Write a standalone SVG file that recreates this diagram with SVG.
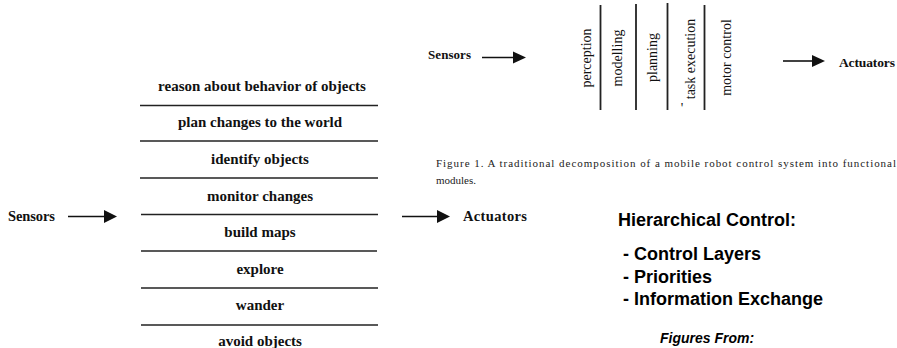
<svg xmlns="http://www.w3.org/2000/svg" width="897" height="348" viewBox="0 0 897 348">
<style>
.bg{fill:#ffffff}
.lay{font-family:"Liberation Serif","Times New Roman",serif;font-weight:bold;font-size:15px;fill:#111;text-anchor:middle}
.lbl{font-family:"Liberation Serif","Times New Roman",serif;font-weight:bold;fill:#111}
.mod{font-family:"Liberation Serif","Times New Roman",serif;font-size:14px;fill:#111;text-anchor:middle}
.cap{font-family:"Liberation Serif","Times New Roman",serif;font-size:11px;fill:#222}
.sep{stroke:#222;stroke-width:1.6}
.vsep{stroke:#222;stroke-width:1.8}
.arr{stroke:#111;stroke-width:1.6;fill:none}
.head{fill:#111}
.hc{font-family:"Liberation Sans",Arial,sans-serif;font-weight:bold;font-size:18px;fill:#000}
.fig{font-family:"Liberation Sans",Arial,sans-serif;font-weight:bold;font-style:italic;font-size:14px;fill:#000}
</style>
<rect class="bg" x="0" y="0" width="897" height="348"/>

<g id="layers">
  <g id="layer-reason"><text class="lay" x="262" y="91">reason about behavior of objects</text></g>
  <g id="layer-plan"><text class="lay" x="260" y="127">plan changes to the world</text></g>
  <g id="layer-identify"><text class="lay" x="260" y="164">identify objects</text></g>
  <g id="layer-monitor"><text class="lay" x="260" y="201">monitor changes</text></g>
  <g id="layer-build"><text class="lay" x="260" y="237">build maps</text></g>
  <g id="layer-explore"><text class="lay" x="260" y="274">explore</text></g>
  <g id="layer-wander"><text class="lay" x="260" y="310">wander</text></g>
  <g id="layer-avoid"><text class="lay" x="260" y="346">avoid objects</text></g>
  <g id="layer-separators">
    <line class="sep" x1="140" y1="105.5" x2="378" y2="105.5"/>
    <line class="sep" x1="140" y1="141" x2="378" y2="141"/>
    <line class="sep" x1="140" y1="178" x2="378" y2="178"/>
    <line class="sep" x1="141" y1="214.5" x2="378" y2="214.5"/>
    <line class="sep" x1="141" y1="251" x2="377" y2="251"/>
    <line class="sep" x1="141" y1="288" x2="378" y2="288"/>
    <line class="sep" x1="141" y1="325" x2="378" y2="325"/>
  </g>
</g>

<g id="sensors-left"><text class="lbl" x="8" y="221" font-size="14.5" textLength="47">Sensors</text></g>
<g id="actuators-left"><text class="lbl" x="463" y="221" font-size="14.5" textLength="64">Actuators</text></g>

<g id="modules">
  <g id="mod-perception"><text class="mod" transform="translate(591,58) rotate(-90)">perception</text></g>
  <g id="mod-modelling"><text class="mod" transform="translate(622,58) rotate(-90)">modelling</text></g>
  <g id="mod-planning"><text class="mod" transform="translate(657,57.5) rotate(-90)">planning</text></g>
  <g id="mod-task"><text class="mod" transform="translate(695,59) rotate(-90)">task execution</text></g>
  <g id="mod-motor"><text class="mod" transform="translate(731,57.5) rotate(-90)">motor control</text></g>
  <text class="mod" x="682" y="113" font-size="10">'</text>
  <g id="module-separators">
    <line class="vsep" x1="600.5" y1="5" x2="600.5" y2="110"/>
    <line class="vsep" x1="636" y1="4" x2="636" y2="110"/>
    <line class="vsep" x1="667.5" y1="3" x2="667.5" y2="110"/>
    <line class="vsep" x1="704.5" y1="5" x2="704.5" y2="110"/>
  </g>
</g>

<g id="sensors-top"><text class="lbl" x="428" y="59" font-size="13" textLength="43">Sensors</text></g>
<g id="actuators-top"><text class="lbl" x="839" y="67" font-size="13.5" textLength="56">Actuators</text></g>

<g id="connectors">
  <line class="arr" x1="68" y1="216.5" x2="106" y2="216.5"/>
  <polygon class="head" points="104,210 117,216.5 104,223"/>
  <line class="arr" x1="402" y1="216.5" x2="439" y2="216.5"/>
  <polygon class="head" points="437,210 450,216.5 437,223"/>
  <line class="arr" x1="482" y1="57.5" x2="515" y2="57.5"/>
  <polygon class="head" points="513,51.5 526,57.5 513,63.5"/>
  <line class="arr" x1="783" y1="61" x2="814" y2="61"/>
  <polygon class="head" points="812,55 825,61 812,67"/>
</g>

<g id="caption">
  <text class="cap" x="436" y="167" textLength="460" lengthAdjust="spacing">Figure 1. A traditional decomposition  of a mobile robot control system into functional</text>
  <text class="cap" x="436" y="184">modules.</text>
</g>

<g id="notes">
  <text class="hc" x="618" y="226">Hierarchical Control:</text>
  <text class="hc" x="623" y="260">- Control Layers</text>
  <text class="hc" x="623" y="283">- Priorities</text>
  <text class="hc" x="623" y="305">- Information Exchange</text>
  <text class="fig" x="660" y="343">Figures From:</text>
</g>
</svg>
